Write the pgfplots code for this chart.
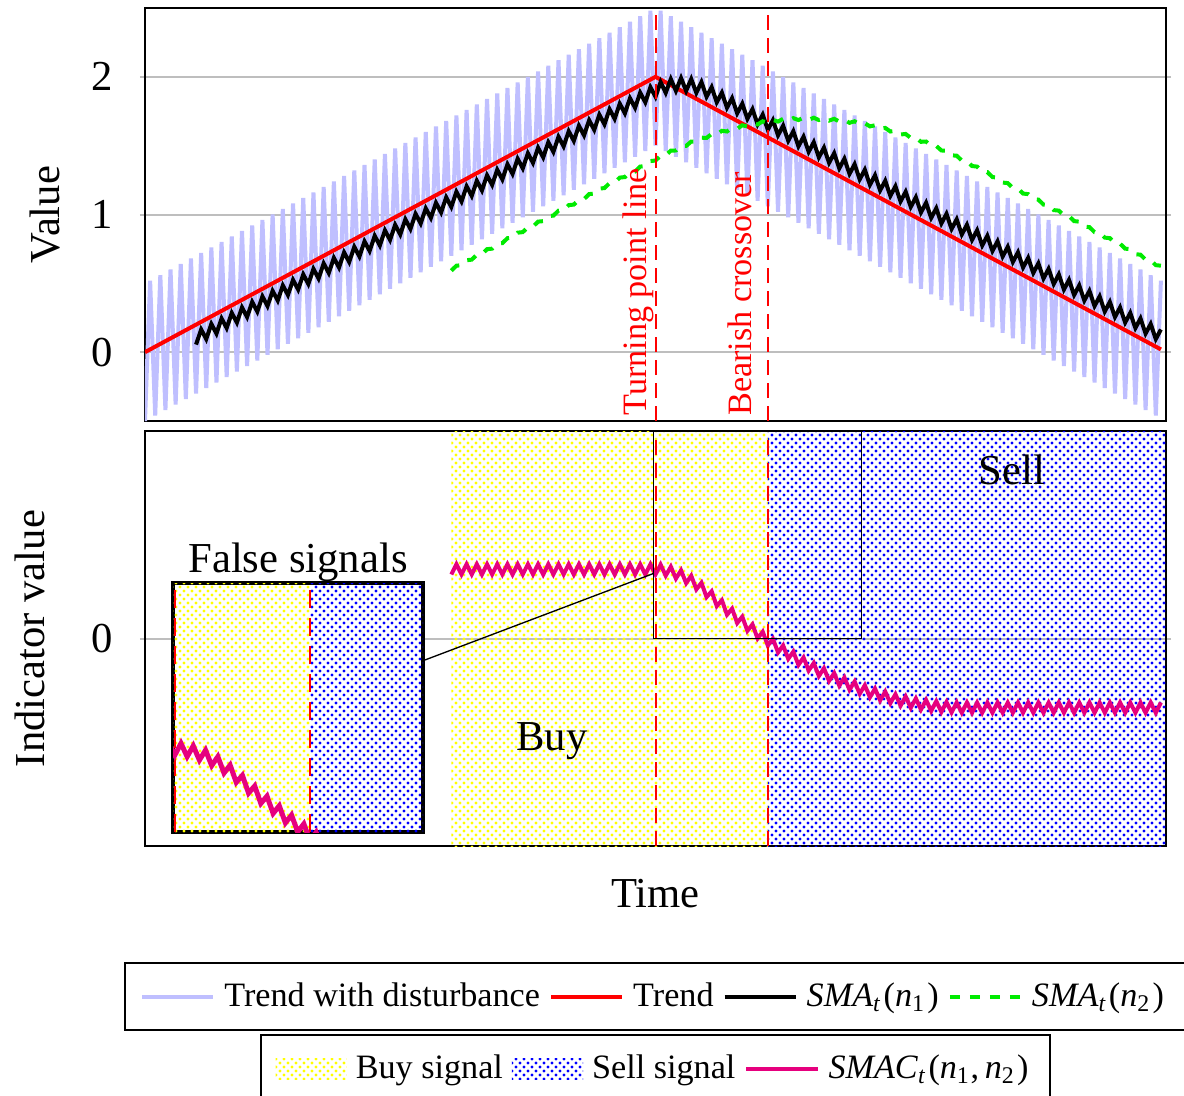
\documentclass[border=0pt]{standalone}
\usepackage{fontspec}
\setmainfont{Liberation Serif}
\usepackage{pgfplots}
\pgfplotsset{compat=1.18}
\usepackage{pgfplotstable}
\usetikzlibrary{patterns}
\definecolor{lblue}{RGB}{191,191,255}
\definecolor{smacmag}{RGB}{230,0,126}
\definecolor{sgreen}{RGB}{0,235,0}
\definecolor{gridgray}{RGB}{190,190,190}

\pgfdeclarepatternformonly{densedots}{\pgfqpoint{-0.6pt}{-0.6pt}}{\pgfqpoint{1.8pt}{1.8pt}}{\pgfqpoint{2.4pt}{2.4pt}}{%
  \pgfpathcircle{\pgfqpoint{0pt}{0pt}}{0.5pt}%
  \pgfpathcircle{\pgfqpoint{1.2pt}{1.2pt}}{0.5pt}%
  \pgfusepath{fill}}

\newcommand{\normtext}{\fontsize{10.25}{12.3}\selectfont}
\newcommand{\bigtext}{\fontsize{12.8}{15.4}\selectfont}

\pgfplotstableread{
x blue black green smac
0 -0.50 nan nan nan
1 0.52 nan nan nan
2 -0.46 nan nan nan
3 0.56 nan nan nan
4 -0.42 nan nan nan
5 0.60 nan nan nan
6 -0.38 nan nan nan
7 0.64 nan nan nan
8 -0.34 nan nan nan
9 0.68 nan nan nan
10 -0.30 0.055 nan nan
11 0.72 0.165 nan nan
12 -0.26 0.095 nan nan
13 0.76 0.205 nan nan
14 -0.22 0.135 nan nan
15 0.80 0.245 nan nan
16 -0.18 0.175 nan nan
17 0.84 0.285 nan nan
18 -0.14 0.215 nan nan
19 0.88 0.325 nan nan
20 -0.10 0.255 nan nan
21 0.92 0.365 nan nan
22 -0.06 0.295 nan nan
23 0.96 0.405 nan nan
24 -0.02 0.335 nan nan
25 1.00 0.445 nan nan
26 0.02 0.375 nan nan
27 1.04 0.485 nan nan
28 0.06 0.415 nan nan
29 1.08 0.525 nan nan
30 0.10 0.455 nan nan
31 1.12 0.565 nan nan
32 0.14 0.495 nan nan
33 1.16 0.605 nan nan
34 0.18 0.535 nan nan
35 1.20 0.645 nan nan
36 0.22 0.575 nan nan
37 1.24 0.685 nan nan
38 0.26 0.615 nan nan
39 1.28 0.725 nan nan
40 0.30 0.655 nan nan
41 1.32 0.765 nan nan
42 0.34 0.695 nan nan
43 1.36 0.805 nan nan
44 0.38 0.735 nan nan
45 1.40 0.845 nan nan
46 0.42 0.775 nan nan
47 1.44 0.885 nan nan
48 0.46 0.815 nan nan
49 1.48 0.925 nan nan
50 0.50 0.855 nan nan
51 1.52 0.965 nan nan
52 0.54 0.895 nan nan
53 1.56 1.005 nan nan
54 0.58 0.935 nan nan
55 1.60 1.045 nan nan
56 0.62 0.975 nan nan
57 1.64 1.085 nan nan
58 0.66 1.015 nan nan
59 1.68 1.125 nan nan
60 0.70 1.055 0.592 0.463
61 1.72 1.165 0.628 0.537
62 0.74 1.095 0.632 0.463
63 1.76 1.205 0.668 0.537
64 0.78 1.135 0.672 0.463
65 1.80 1.245 0.708 0.537
66 0.82 1.175 0.712 0.463
67 1.84 1.285 0.748 0.537
68 0.86 1.215 0.752 0.463
69 1.88 1.325 0.788 0.537
70 0.90 1.255 0.792 0.463
71 1.92 1.365 0.828 0.537
72 0.94 1.295 0.832 0.463
73 1.96 1.405 0.868 0.537
74 0.98 1.335 0.872 0.463
75 2.00 1.445 0.908 0.537
76 1.02 1.375 0.912 0.463
77 2.04 1.485 0.948 0.537
78 1.06 1.415 0.952 0.463
79 2.08 1.525 0.988 0.537
80 1.10 1.455 0.992 0.463
81 2.12 1.565 1.028 0.537
82 1.14 1.495 1.032 0.463
83 2.16 1.605 1.068 0.537
84 1.18 1.535 1.072 0.463
85 2.20 1.645 1.108 0.537
86 1.22 1.575 1.112 0.463
87 2.24 1.685 1.148 0.537
88 1.26 1.615 1.152 0.463
89 2.28 1.725 1.188 0.537
90 1.30 1.655 1.192 0.463
91 2.32 1.765 1.228 0.537
92 1.34 1.695 1.232 0.463
93 2.36 1.805 1.268 0.537
94 1.38 1.735 1.272 0.463
95 2.40 1.845 1.308 0.537
96 1.42 1.775 1.312 0.463
97 2.44 1.885 1.348 0.537
98 1.46 1.815 1.352 0.463
99 2.48 1.925 1.388 0.537
100 1.50 1.855 1.392 0.463
101 2.48 1.962 1.427 0.534
102 1.46 1.884 1.430 0.454
103 2.44 1.984 1.464 0.519
104 1.42 1.898 1.465 0.433
105 2.40 1.991 1.498 0.493
106 1.38 1.898 1.498 0.400
107 2.36 1.984 1.530 0.454
108 1.34 1.884 1.528 0.355
109 2.32 1.962 1.558 0.403
110 1.30 1.855 1.556 0.299
111 2.28 1.925 1.585 0.341
112 1.26 1.815 1.581 0.234
113 2.24 1.885 1.608 0.277
114 1.22 1.775 1.603 0.172
115 2.20 1.845 1.629 0.216
116 1.18 1.735 1.623 0.112
117 2.16 1.805 1.648 0.158
118 1.14 1.695 1.640 0.055
119 2.12 1.765 1.663 0.102
120 1.10 1.655 1.654 0.000
121 2.08 1.725 1.677 0.049
122 1.06 1.615 1.666 -0.051
123 2.04 1.685 1.687 -0.002
124 1.02 1.575 1.675 -0.101
125 2.00 1.645 1.695 -0.050
126 0.98 1.535 1.682 -0.147
127 1.96 1.605 1.700 -0.095
128 0.94 1.495 1.686 -0.191
129 1.92 1.565 1.703 -0.137
130 0.90 1.455 1.687 -0.232
131 1.88 1.525 1.703 -0.177
132 0.86 1.415 1.686 -0.271
133 1.84 1.485 1.700 -0.215
134 0.82 1.375 1.682 -0.307
135 1.80 1.445 1.695 -0.250
136 0.78 1.335 1.675 -0.341
137 1.76 1.405 1.687 -0.282
138 0.74 1.295 1.666 -0.371
139 1.72 1.365 1.677 -0.311
140 0.70 1.255 1.654 -0.400
141 1.68 1.325 1.663 -0.338
142 0.66 1.215 1.640 -0.425
143 1.64 1.285 1.648 -0.362
144 0.62 1.175 1.623 -0.448
145 1.60 1.245 1.629 -0.384
146 0.58 1.135 1.603 -0.468
147 1.56 1.205 1.608 -0.403
148 0.54 1.095 1.581 -0.486
149 1.52 1.165 1.585 -0.419
150 0.50 1.055 1.556 -0.501
151 1.48 1.125 1.558 -0.433
152 0.46 1.015 1.528 -0.514
153 1.44 1.085 1.530 -0.444
154 0.42 0.975 1.498 -0.524
155 1.40 1.045 1.498 -0.453
156 0.38 0.935 1.465 -0.531
157 1.36 1.005 1.464 -0.459
158 0.34 0.895 1.430 -0.535
159 1.32 0.965 1.427 -0.462
160 0.30 0.855 1.392 -0.537
161 1.28 0.925 1.388 -0.463
162 0.26 0.815 1.352 -0.537
163 1.24 0.885 1.348 -0.463
164 0.22 0.775 1.312 -0.537
165 1.20 0.845 1.308 -0.463
166 0.18 0.735 1.272 -0.537
167 1.16 0.805 1.268 -0.463
168 0.14 0.695 1.232 -0.537
169 1.12 0.765 1.228 -0.463
170 0.10 0.655 1.192 -0.537
171 1.08 0.725 1.188 -0.463
172 0.06 0.615 1.152 -0.537
173 1.04 0.685 1.148 -0.463
174 0.02 0.575 1.112 -0.537
175 1.00 0.645 1.108 -0.463
176 -0.02 0.535 1.072 -0.537
177 0.96 0.605 1.068 -0.463
178 -0.06 0.495 1.032 -0.537
179 0.92 0.565 1.028 -0.463
180 -0.10 0.455 0.992 -0.537
181 0.88 0.525 0.988 -0.463
182 -0.14 0.415 0.952 -0.537
183 0.84 0.485 0.948 -0.463
184 -0.18 0.375 0.912 -0.537
185 0.80 0.445 0.908 -0.463
186 -0.22 0.335 0.872 -0.537
187 0.76 0.405 0.868 -0.463
188 -0.26 0.295 0.832 -0.537
189 0.72 0.365 0.828 -0.463
190 -0.30 0.255 0.792 -0.537
191 0.68 0.325 0.788 -0.463
192 -0.34 0.215 0.752 -0.537
193 0.64 0.285 0.748 -0.463
194 -0.38 0.175 0.712 -0.537
195 0.60 0.245 0.708 -0.463
196 -0.42 0.135 0.672 -0.537
197 0.56 0.205 0.668 -0.463
198 -0.46 0.095 0.632 -0.537
199 0.52 0.165 0.628 -0.463
}\datatab

\newcommand{\SMA}[1]{\textit{SMA}\textsubscript{\textit{t}}\kern0.5pt(\textit{n}\textsubscript{#1}\kern0.5pt)}

\pgfplotsset{
  panel/.style={
    scale only axis,
    width=306.3pt,
    xmin=0, xmax=200,
    xtick=\empty,
    ymajorgrids,
    major grid style={gridgray, line width=0.6pt},
    tick align=outside,
    major tick length=1.5pt,
    tick style={gridgray, line width=0.6pt},
    axis line style={line width=0.6pt},
    /pgf/number format/assume math mode=true,
    yticklabel style={font=\bigtext, xshift=-4.5pt},
    label style={font=\bigtext},
    legend cell align=left,
    legend style={font=\normtext, draw=black, line width=0.6pt,
      inner xsep=4.5pt, inner ysep=3.8pt, column sep=0.7pt},
    legend image code/.code={\draw[#1] (0cm,0cm) -- (0.75cm,0cm);},
  },
  patlegend/.style={legend image code/.code={\path[##1] (0cm,-0.11cm) rectangle (0.75cm,0.11cm);}},
  vline/.style={red, line width=0.6pt, dash pattern=on 4.5pt off 2.4pt, forget plot},
}

\begin{document}
\begin{tikzpicture}
% ---------------- top panel ----------------
\begin{axis}[panel,
  at={(0pt,0pt)}, anchor=north west,
  height=123.9pt,
  ymin=-0.5, ymax=2.5,
  ytick={0,1,2},
  ylabel={Value},
  ylabel style={at={(axis description cs:-0.098,0.5)}, anchor=center},
  legend columns=4,
  legend style={at={(0.5,-1.31)}, anchor=north},
]
\addplot[lblue, line width=1.2pt] table[x=x, y=blue]{\datatab};
\addlegendentry{Trend with disturbance}
\addplot[red, line width=1.2pt] coordinates {(0,0) (100,2) (199,0.02)};
\addlegendentry{Trend}
\addplot[black, line width=1.2pt] table[x=x, y=black]{\datatab};
\addlegendentry{\SMA{1}}
\addplot[sgreen, line width=1.2pt, dashed] table[x=x, y=green]{\datatab};
\addlegendentry{\SMA{2}}
\addplot[vline] coordinates {(100,-0.5) (100,2.5)};
\addplot[vline] coordinates {(122,-0.5) (122,2.5)};
\node[rotate=90, anchor=base west, red, inner sep=1pt, font=\normtext] at (axis cs:98.3,-0.49) {Turning point line};
\node[rotate=90, anchor=base west, red, inner sep=1pt, font=\normtext] at (axis cs:118.9,-0.49) {Bearish crossover};
\end{axis}

% ---------------- bottom panel ----------------
\begin{axis}[panel,
  at={(0pt,-126.9pt)}, anchor=north west,
  height=124.5pt,
  ymin=-1.5, ymax=1.5,
  ytick={0},
  ylabel={Indicator value},
  ylabel style={at={(axis description cs:-0.1126,0.5)}, anchor=center},
  xlabel={Time},
  xlabel style={at={(axis description cs:0.5,-0.115)}, anchor=center},
  legend columns=3,
  legend style={at={(0.5,-0.453)}, anchor=north},
]
\addplot[draw=none, pattern=densedots, pattern color=yellow, patlegend]
  coordinates {(60,-1.5) (60,1.5) (122,1.5) (122,-1.5) (60,-1.5)};
\addlegendentry{Buy signal}
\addplot[draw=none, pattern=densedots, pattern color=blue, patlegend]
  coordinates {(122,-1.5) (122,1.5) (200,1.5) (200,-1.5) (122,-1.5)};
\addlegendentry{Sell signal}
\addplot[smacmag, line width=1.2pt] table[x=x, y=smac]{\datatab};
\addlegendentry{\textit{SMAC}\textsubscript{\textit{t}}\kern0.5pt(\textit{n}\textsubscript{1},\,\textit{n}\textsubscript{2}\kern0.5pt)}
\addplot[vline] coordinates {(100,-1.5) (100,1.5)};
\addplot[vline] coordinates {(122,-1.5) (122,1.5)};
\draw[black, line width=0.4pt] (axis cs:99.6,0) rectangle (axis cs:140.4,1.5);
\draw[black, line width=0.4pt] (axis cs:54.5,-0.16) -- (axis cs:99.6,0.47);
\node[font=\bigtext] at (axis cs:79.7,-0.74) {Buy};
\node[font=\bigtext] at (axis cs:169.8,1.22) {Sell};
\end{axis}

% ---------------- inset ----------------
\begin{axis}[
  at={(8.4pt,-172.5pt)}, anchor=north west,
  scale only axis, width=75pt, height=74.7pt,
  xmin=99.7, xmax=140.4, ymin=0, ymax=1.5,
  xtick=\empty, ytick=\empty,
  axis line style={line width=1pt},
  axis background/.style={fill=white},
  title={False signals},
  title style={font=\bigtext, yshift=-9pt},
]
\addplot[draw=none, pattern=densedots, pattern color=yellow]
  coordinates {(99,-0.1) (99,1.6) (122,1.6) (122,-0.1) (99,-0.1)};
\addplot[draw=none, pattern=densedots, pattern color=blue]
  coordinates {(122,-0.1) (122,1.6) (141,1.6) (141,-0.1) (122,-0.1)};
\addplot[red, line width=0.8pt, dash pattern=on 5.5pt off 2.9pt] coordinates {(100,0) (100,1.5)};
\addplot[red, line width=0.8pt, dash pattern=on 5.5pt off 2.9pt] coordinates {(122,0) (122,1.5)};
\addplot[smacmag, line width=1.5pt] table[x=x, y=smac]{\datatab};
\end{axis}

\pgfresetboundingbox
\path[use as bounding box] (-43.5pt,2.4pt) rectangle (311.7pt,-326.1pt);
\end{tikzpicture}
\end{document}
